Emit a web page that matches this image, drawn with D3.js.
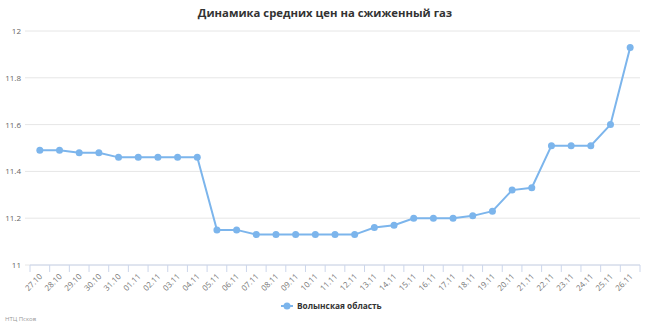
<!DOCTYPE html>
<html>
<head>
<meta charset="utf-8">
<script src="https://cdn.jsdelivr.net/npm/d3@7"></script>
<style>
  body { margin: 0; background: #fff; }
  svg { font-family: "Open Sans", "DejaVu Sans", sans-serif; }
</style>
</head>
<body>
<svg id="chart" width="650" height="325"></svg>
<script>
var dates = ["27.10","28.10","29.10","30.10","31.10","01.11","02.11","03.11","04.11","05.11",
             "06.11","07.11","08.11","09.11","10.11","11.11","12.11","13.11","14.11","15.11",
             "16.11","17.11","18.11","19.11","20.11","21.11","22.11","23.11","24.11","25.11","26.11"];
var prices = [11.49,11.49,11.48,11.48,11.46,11.46,11.46,11.46,11.46,11.15,
              11.15,11.13,11.13,11.13,11.13,11.13,11.13,11.16,11.17,11.20,
              11.20,11.20,11.21,11.23,11.32,11.33,11.51,11.51,11.51,11.60,11.93];
var yTicks = [11, 11.2, 11.4, 11.6, 11.8, 12];
var seriesName = "Волынская область";

var svg = d3.select("#chart");
var margin = {top: 31, right: 10, bottom: 60, left: 30},
    width = 650 - margin.left - margin.right,
    height = 325 - margin.top - margin.bottom;

var x = d3.scaleBand().domain(dates).range([0, width]);
var y = d3.scaleLinear().domain([11, 12]).range([height, 0]);

var g = svg.append("g")
    .attr("transform", "translate(" + margin.left + "," + margin.top + ")");

// title
svg.append("text")
    .attr("x", 325).attr("y", 17)
    .attr("text-anchor", "middle")
    .style("font-size", "11.3px").style("font-weight", "bold").style("fill", "#333")
    .text("Динамика средних цен на сжиженный газ");

// grid
g.selectAll("line.grid").data(yTicks).enter().append("line")
    .attr("class", "grid")
    .attr("x1", -5).attr("x2", width)
    .attr("y1", function (d) { return y(d); })
    .attr("y2", function (d) { return y(d); })
    .style("stroke", "#e6e6e6");

g.selectAll("text.ylab").data(yTicks).enter().append("text")
    .attr("class", "ylab")
    .attr("x", -9).attr("y", function (d) { return y(d) + 3; })
    .attr("text-anchor", "end")
    .style("font-size", "8px").style("fill", "#666")
    .text(function (d) { return d; });

// x axis
var xAxis = g.append("g").attr("transform", "translate(0," + height + ")");
xAxis.append("line").attr("x1", 0).attr("x2", width).style("stroke", "#ccd6eb");
var bounds = dates.map(function (d) { return x(d); }).concat([width]);
xAxis.selectAll("line.tick").data(bounds).enter().append("line")
    .attr("x1", function (d) { return d; }).attr("x2", function (d) { return d; })
    .attr("y1", 0).attr("y2", 7)
    .style("stroke", "#ccd6eb");
xAxis.selectAll("text").data(dates).enter().append("text")
    .attr("transform", function (d) {
        return "translate(" + (x(d) + x.bandwidth() / 2 + 3) + ",12) rotate(-45)";
    })
    .attr("text-anchor", "end")
    .style("font-size", "8px").style("fill", "#777")
    .text(function (d) { return d; });

// line
var line = d3.line()
    .x(function (d, i) { return x(dates[i]) + x.bandwidth() / 2; })
    .y(function (d) { return y(d); });

g.append("path").datum(prices)
    .attr("d", line)
    .style("fill", "none").style("stroke", "#7cb5ec").style("stroke-width", 2);

g.selectAll("circle").data(prices).enter().append("circle")
    .attr("cx", function (d, i) { return x(dates[i]) + x.bandwidth() / 2; })
    .attr("cy", function (d) { return y(d); })
    .attr("r", 3.5)
    .style("fill", "#7cb5ec");

// legend
var leg = svg.append("g").attr("transform", "translate(281,306)");
leg.append("line").attr("x1", 0).attr("x2", 12).style("stroke", "#7cb5ec").style("stroke-width", 2);
leg.append("circle").attr("cx", 6).attr("r", 3.5).style("fill", "#7cb5ec");
leg.append("text").attr("x", 16).attr("y", 3)
    .style("font-size", "8.3px").style("font-weight", "bold").style("fill", "#333")
    .text(seriesName);

// credit
svg.append("text").attr("x", 5).attr("y", 321)
    .style("font-size", "6px").style("fill", "#999")
    .text("НТЦ Псков");
</script>
</body>
</html>
